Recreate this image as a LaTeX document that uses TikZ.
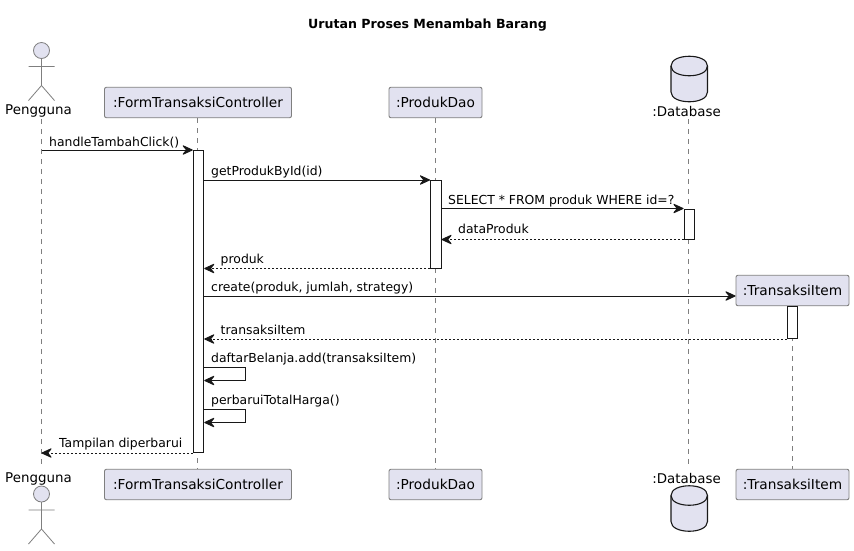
\documentclass[tikz,border=0pt]{standalone}
\usepackage{fontspec}
\setmainfont{DejaVu Sans}
\usetikzlibrary{arrows.meta,shapes.geometric,calc}
\definecolor{pbg}{HTML}{E2E2F0}
\definecolor{pln}{HTML}{7F7F7F}
\definecolor{ink}{HTML}{181818}
\tikzset{
  part/.style={draw=pln,fill=pbg,rounded corners=2pt,line width=.9pt,minimum height=30.5pt,inner xsep=0pt,inner ysep=0pt,font=\fontsize{13.7}{16}\selectfont,text=black},
  act/.style={draw=ink,fill=white,line width=1pt,minimum width=10.5pt,inner sep=0pt,anchor=north},
  life/.style={draw=pln,line width=.8pt,dash pattern=on 5pt off 5pt},
  msg/.style={draw=ink,line width=1pt,-{Stealth[length=12pt,width=11pt,inset=4.5pt,round]}},
  ret/.style={msg,dash pattern=on 2pt off 2pt},
  lab/.style={anchor=base west,inner sep=0pt,font=\fontsize{12.4}{14}\selectfont,text=black},
  actortxt/.style={inner sep=0pt,font=\fontsize{13.4}{16}\selectfont,text=black},
  stick/.style={draw=pln,line width=.8pt},
  dbbody/.style={draw=ink,fill=pbg,line width=1.1pt}
}
\newcommand{\actor}[2]{%
  \draw[stick,fill=pbg] (41.5,#1) circle (8);
  \draw[stick] (41.5,#1+8) -- (41.5,#1+35) (28.5,#1+16) -- (54.5,#1+16)
    (28.5,#1+50) -- (41.5,#1+35) -- (54.5,#1+50);}
\newcommand{\dbshape}[1]{%
  \draw[dbbody] (671,#1+10) .. controls (671,#1-3) and (707.5,#1-3) .. (707.5,#1+10)
    -- (707.5,#1+36) .. controls (707.5,#1+49) and (671,#1+49) .. (671,#1+36) -- cycle;
  \draw[dbbody,fill=none] (671,#1+10) .. controls (671,#1+23) and (707.5,#1+23) .. (707.5,#1+10);}
\begin{document}
\begin{tikzpicture}[x=1pt,y=-1pt]
\useasboundingbox (0,0) rectangle (854,550);
\fill[white] (0,0) rectangle (854,550);
\node[inner sep=0pt,font=\fontsize{12.6}{14}\selectfont\bfseries] (title) at (427.5,25) {Urutan Proses Menambah Barang};
% participants
\node[actortxt] (ut) at (38.5,111) {Pengguna};
\node[part,minimum width=187pt] (ft) at (198,102.5) {:FormTransaksiController};
\node[part,minimum width=93pt] (pt) at (435.5,102.5) {:ProdukDao};
\node[actortxt] (dt) at (686.5,111) {:Database};
\node[actortxt] (ub) at (38.5,479) {Pengguna};
\node[part,minimum width=187pt] (fb) at (198,484.5) {:FormTransaksiController};
\node[part,minimum width=93pt] (pb) at (435.5,484.5) {:ProdukDao};
\node[actortxt] (db) at (686.5,478.5) {:Database};
\node[part,minimum width=113pt] (ib) at (792.5,484.5) {:TransaksiItem};
\node[part,minimum width=113pt] (it) at (792.5,290.5) {:TransaksiItem};
% lifelines
\coordinate (ul1) at (41.5,119); \coordinate (ul2) at (41.5,468);
\coordinate (dl1) at (688.5,119); \coordinate (dl2) at (688.5,468);
\draw[life] (ul1) -- (ul2);
\draw[life] (ft.south -| 197.5,0) -- (fb.north -| 197.5,0);
\draw[life] (pt.south) -- (pb.north);
\draw[life] (dl1) -- (dl2);
\draw[life] (it.south) -- (ib.north);
\actor{50.5}{t}
\actor{494}{b}
\dbshape{56}
\dbshape{485.5}
% activations
\node[act,minimum height=302pt] (af) at (198.5,150) {};
\node[act,minimum height=87.5pt] (ap) at (435.75,180) {};
\node[act,minimum height=30pt] (ad) at (689.25,208.5) {};
\node[act,minimum height=32pt] (ai) at (792.5,306) {};
\coordinate (cr) at (it.west |- 0,296);
% messages
\draw[msg] (ul1 |- af.north) -- (af.north west);
\node[lab] at (49,146) {handleTambahClick()};
\draw[msg] (af.east |- ap.north) -- (ap.north west);
\node[lab] at (211,175) {getProdukById(id)};
\draw[msg] (ap.east |- ad.north) -- (ad.north west);
\node[lab] at (448,204) {SELECT * FROM produk WHERE id=?};
\draw[ret] (ad.south west) -- (ap.east |- ad.south);
\node[lab] at (458,233) {dataProduk};
\draw[ret] (ap.south west) -- (af.east |- ap.south);
\node[lab] at (220.5,263) {produk};
\draw[msg] (af.east |- cr) -- (cr);
\node[lab] at (211,291.5) {create(produk, jumlah, strategy)};
\draw[ret] (ai.south west) -- (af.east |- ai.south);
\node[lab] at (220.5,334) {transaksiItem};
\draw[msg] (af.east |- 0,367.5) -- (245.5,367.5) -- (245.5,380.5) -- (af.east |- 0,380.5);
\node[lab] at (211,362.5) {daftarBelanja.add(transaksiItem)};
\draw[msg] (af.east |- 0,409.5) -- (245.5,409.5) -- (245.5,422.5) -- (af.east |- 0,422.5);
\node[lab] at (211,404.5) {perbaruiTotalHarga()};
\draw[ret] (af.south west) -- (ul1 |- af.south);
\node[lab] at (59,447.5) {Tampilan diperbarui};
\end{tikzpicture}
\end{document}
